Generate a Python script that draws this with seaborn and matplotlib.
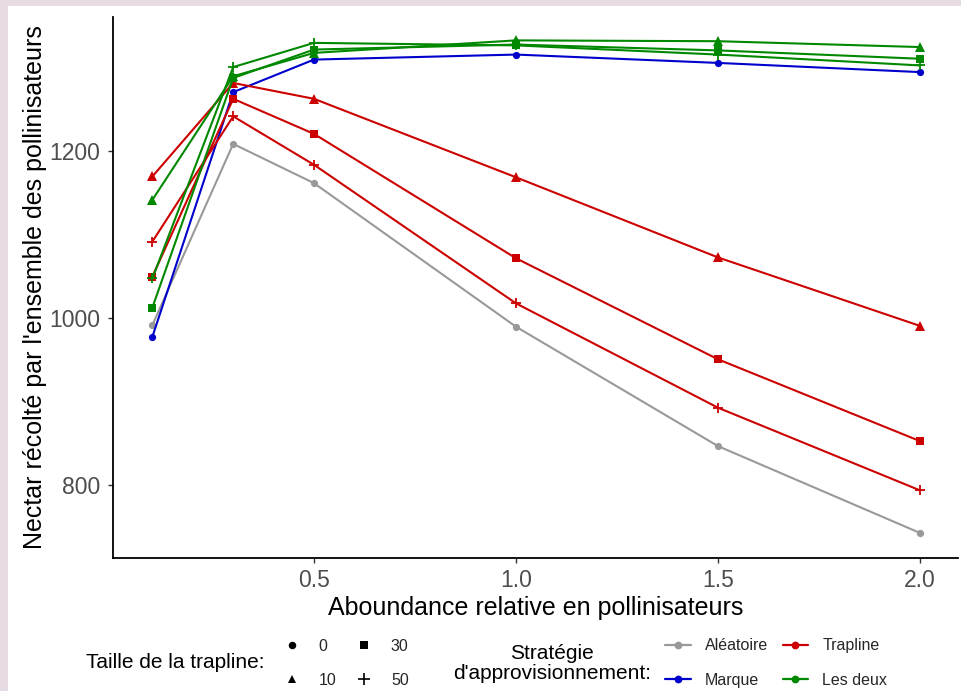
import matplotlib
matplotlib.use("Agg")
import matplotlib.pyplot as plt
from matplotlib.lines import Line2D
from matplotlib.patches import Rectangle
import seaborn as sns
import pandas as pd

# ---- data ----
abondance = [0.1, 0.3, 0.5, 1.0, 1.5, 2.0]

aleatoire_0 = [991, 1208, 1161, 989, 846, 742]
marque_0 = [977, 1270, 1309, 1315, 1305, 1294]
trapline_10 = [1169, 1281, 1262, 1168, 1072, 990]
trapline_30 = [1049, 1262, 1220, 1071, 950, 852]
trapline_50 = [1091, 1241, 1183, 1017, 892, 793]
lesdeux_10 = [1141, 1289, 1317, 1332, 1331, 1324]
lesdeux_30 = [1012, 1287, 1321, 1327, 1320, 1310]
lesdeux_50 = [1047, 1300, 1329, 1326, 1315, 1302]

strategies = ["Aléatoire", "Marque", "Trapline", "Les deux"]
tailles = ["0", "10", "30", "50"]

series = [
    ("Aléatoire", "0", aleatoire_0),
    ("Marque", "0", marque_0),
    ("Trapline", "10", trapline_10),
    ("Trapline", "30", trapline_30),
    ("Trapline", "50", trapline_50),
    ("Les deux", "10", lesdeux_10),
    ("Les deux", "30", lesdeux_30),
    ("Les deux", "50", lesdeux_50),
]

rows = []
for strat, taille, vals in series:
    for x, y in zip(abondance, vals):
        rows.append({"abondance": x, "nectar": y, "strategie": strat, "taille": taille})
df = pd.DataFrame(rows)

# ---- styles ----
colors = {"Aléatoire": "#999999", "Marque": "#0000CC", "Trapline": "#CC0000", "Les deux": "#008800"}
markers = {"0": "o", "10": "^", "30": "s", "50": "+"}
msizes = {"0": 5.2, "10": 7.0, "30": 5.5, "50": 7.8}

sns.set_theme(style="white")
plt.rcParams["font.family"] = ["Liberation Sans", "DejaVu Sans"]

fig = plt.figure(figsize=(9.62, 6.91), dpi=100, facecolor="#E8DCE4")
fig.patches.append(Rectangle((8 / 962, 0), 1, 1 - 6 / 691, transform=fig.transFigure,
                             facecolor="white", edgecolor="none", zorder=-10))
ax = fig.add_axes([113 / 962, 1 - 558 / 691, (958 - 113) / 962, (558 - 17) / 691])
ax.set_facecolor("white")

for strat, taille, vals in series:
    sub = df[(df.strategie == strat) & (df.taille == taille)]
    sns.lineplot(data=sub, x="abondance", y="nectar", color=colors[strat],
                 marker=markers[taille], markersize=msizes[taille],
                 markeredgewidth=1.3 if taille == "50" else 0,
                 markeredgecolor=colors[strat],
                 linewidth=1.5, legend=False, ax=ax)

ax.set_xlim(0.0025, 2.094)
ax.set_ylim(712, 1360)
ax.set_xticks([0.5, 1.0, 1.5, 2.0])
ax.set_xticklabels(["0.5", "1.0", "1.5", "2.0"])
ax.set_yticks([800, 1000, 1200])

for s in ["top", "right"]:
    ax.spines[s].set_visible(False)
for s in ["left", "bottom"]:
    ax.spines[s].set_color("black")
    ax.spines[s].set_linewidth(1.3)

ax.tick_params(axis="both", which="major", length=3.6, width=1.0, color="#333333",
               labelsize=16.5, labelcolor="#4D4D4D", bottom=True, left=True)
ax.tick_params(axis="y", pad=5.5)
ax.tick_params(axis="x", pad=4.5)

ax.set_xlabel("Aboundance relative en pollinisateurs", fontsize=18, color="black", labelpad=2.5)
ax.set_ylabel("Nectar récolté par l'ensemble des pollinisateurs", fontsize=18, color="black", labelpad=2)

# ---- legends ----
leg_fs = 11.5
h_taille = [Line2D([], [], linestyle="none", marker=markers[t], color="black",
                   markersize={"0": 5.4, "10": 6.4, "30": 5.4, "50": 8.0}[t],
                   markeredgewidth=1.2 if t == "50" else 0) for t in tailles]
leg1 = fig.legend(h_taille, tailles, ncol=2, frameon=False, fontsize=leg_fs,
                  loc="center left", bbox_to_anchor=(283.7 / 962, 1 - 663.5 / 691),
                  bbox_transform=fig.transFigure, borderpad=0, borderaxespad=0,
                  handlelength=1.0, handletextpad=1.2, columnspacing=1.2, labelspacing=1.2)

h_strat = [Line2D([], [], color=colors[s], marker="o", markersize=5.6, linewidth=1.6,
                  markeredgewidth=0) for s in strategies]
leg2 = fig.legend(h_strat, strategies, ncol=2, frameon=False, fontsize=leg_fs,
                  loc="center left", bbox_to_anchor=(665 / 962, 1 - 663 / 691),
                  bbox_transform=fig.transFigure, borderpad=0, borderaxespad=0,
                  handlelength=1.6, handletextpad=0.9, columnspacing=0.9, labelspacing=1.2)

fig.text(265 / 962, 1 - 663 / 691, "Taille de la trapline:", ha="right", va="center",
         fontsize=15, color="black")
fig.text(552 / 962, 1 - 663.5 / 691, "Stratégie\nd'approvisionnement:", ha="center", va="center",
         multialignment="center", fontsize=15, color="black", linespacing=1.12)

fig.savefig("out.png", dpi=100, facecolor=fig.get_facecolor())
